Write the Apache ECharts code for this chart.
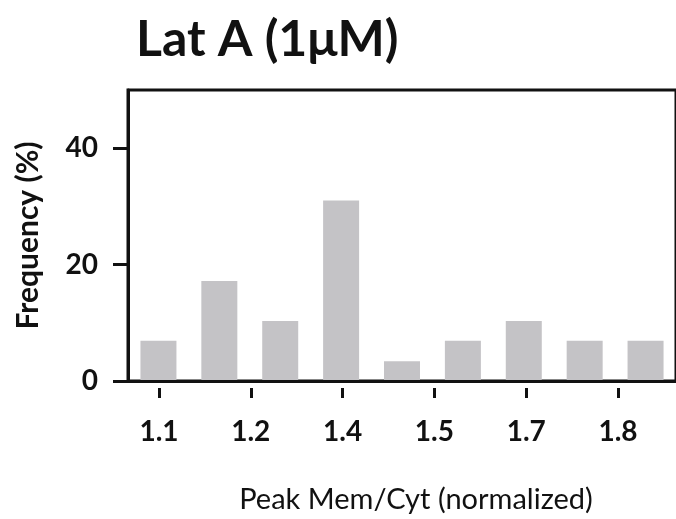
<!DOCTYPE html>
<html>
<head>
<meta charset="utf-8">
<script src="https://cdn.jsdelivr.net/npm/echarts@6/dist/echarts.min.js"></script>
<style>
html,body{margin:0;padding:0;background:#fff;}
#chart{width:676px;height:519px;}
</style>
</head>
<body>
<div id="chart"></div>
<script>
// Data
const binCenters = ['1.1','1.2','1.3','1.4','1.5','1.6','1.7','1.8','1.9'];
const frequency = [6.9, 17.2, 10.3, 31.0, 3.4, 6.9, 10.3, 6.9, 6.9];
const tickLabels = ['1.1','1.2','1.4','1.5','1.7','1.8'];
const yTicks = [0, 20, 40];

const FONT = 'Lato, "Open Sans", sans-serif';
const chart = echarts.init(document.getElementById('chart'), null, {renderer: 'canvas'});
chart.setOption({
  backgroundColor: '#ffffff',
  animation: false,
  title: {
    text: 'Lat A (1\u03bcM)',
    left: 131, top: 10,
    textStyle: {fontFamily: FONT, fontWeight: 'bold', fontSize: 50, color: '#111'}
  },
  grid: [
    {left: 128, right: -5, top: 90, bottom: 131, show: true, borderColor: '#111', borderWidth: 3},
    {left: 159, right: 58, top: 90, bottom: 131}
  ],
  xAxis: [
    {
      type: 'category', gridIndex: 0, data: binCenters, z: 5,
      axisLine: {lineStyle: {color: '#111', width: 3}},
      axisTick: {show: false}, axisLabel: {show: false}, splitLine: {show: false},
      name: 'Peak Mem/Cyt (normalized)', nameLocation: 'middle', nameGap: 104,
      nameTextStyle: {fontFamily: FONT, fontSize: 29, color: '#111', padding: [0, 0, 0, 28]}
    },
    {
      type: 'value', gridIndex: 1, min: 0, max: tickLabels.length - 1, interval: 1,
      axisLine: {show: false},
      axisTick: {show: true, length: 10, lineStyle: {color: '#111', width: 3}},
      axisLabel: {
        margin: 30, fontFamily: FONT, fontWeight: 'bold', fontSize: 28, color: '#111',
        formatter: function (v) { return tickLabels[Math.round(v)] || ''; }
      },
      splitLine: {show: false}
    }
  ],
  yAxis: [
    {
      type: 'value', gridIndex: 0, min: 0, max: 50, interval: 20, z: 5,
      axisLine: {show: true, lineStyle: {color: '#111', width: 3}},
      axisTick: {show: true, length: 15, lineStyle: {color: '#111', width: 3},
        customValues: yTicks},
      axisLabel: {margin: 30, fontFamily: FONT, fontWeight: 'bold', fontSize: 28, color: '#111',
        customValues: yTicks},
      splitLine: {show: false},
      name: 'Frequency (%)', nameLocation: 'middle', nameGap: 85,
      nameTextStyle: {fontFamily: FONT, fontWeight: 'bold', fontSize: 30, color: '#111'}
    },
    {type: 'value', gridIndex: 1, show: false, min: 0, max: 50}
  ],
  series: [{
    type: 'bar', xAxisIndex: 0, yAxisIndex: 0,
    data: frequency, barWidth: 36,
    itemStyle: {color: '#c4c3c6'}
  }]
});
</script>
</body>
</html>
